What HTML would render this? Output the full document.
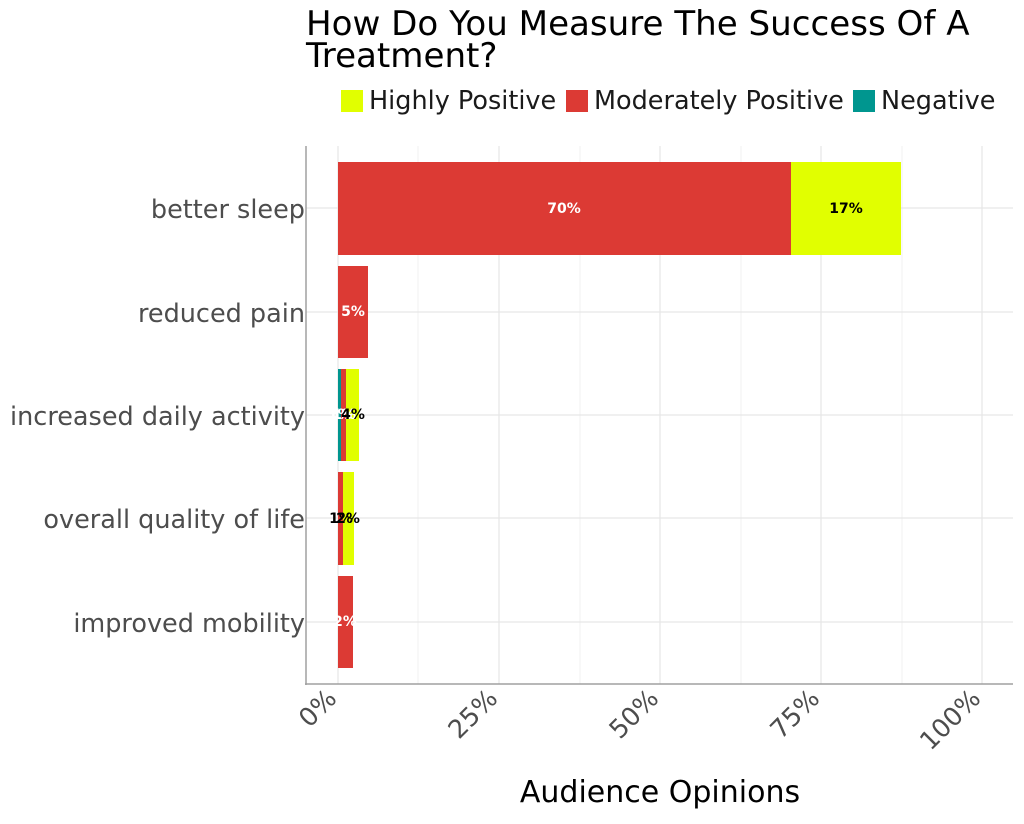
<!DOCTYPE html>
<html><head><style>body{margin:0;background:#fff}</style></head><body>
<svg width="1024" height="819" xmlns="http://www.w3.org/2000/svg" font-family="'DejaVu Sans','Liberation Sans',sans-serif">
<rect width="1024" height="819" fill="#fff"/>
<text x="306" y="35" font-size="34.1" fill="#000">How Do You Measure The Success Of A</text>
<text x="306" y="67" font-size="34.1" fill="#000">Treatment?</text>
<rect x="341" y="90" width="22" height="22" fill="#e1ff00"/>
<text x="369" y="109" font-size="25.5" fill="#1a1a1a">Highly Positive</text>
<rect x="566" y="90" width="22" height="22" fill="#dc3a34"/>
<text x="594" y="109" font-size="25.5" fill="#1a1a1a">Moderately Positive</text>
<rect x="853" y="90" width="22" height="22" fill="#00968f"/>
<text x="881" y="109" font-size="25.5" fill="#1a1a1a">Negative</text>
<g stroke="#f2f2f2" stroke-width="1">
<line x1="418" y1="146" x2="418" y2="684"/><line x1="580" y1="146" x2="580" y2="684"/><line x1="741" y1="146" x2="741" y2="684"/><line x1="902" y1="146" x2="902" y2="684"/>
</g>
<g stroke="#e6e6e6" stroke-width="1.2">
<line x1="338" y1="146" x2="338" y2="684"/><line x1="499" y1="146" x2="499" y2="684"/><line x1="660" y1="146" x2="660" y2="684"/><line x1="821" y1="146" x2="821" y2="684"/><line x1="982" y1="146" x2="982" y2="684"/>
<line x1="306" y1="208" x2="1013" y2="208"/><line x1="306" y1="312" x2="1013" y2="312"/><line x1="306" y1="415" x2="1013" y2="415"/><line x1="306" y1="518" x2="1013" y2="518"/><line x1="306" y1="622" x2="1013" y2="622"/>
</g>
<rect x="338" y="162" width="453" height="93" fill="#dc3a34"/>
<rect x="791" y="162" width="110" height="93" fill="#e1ff00"/>
<rect x="338" y="266" width="30" height="92" fill="#dc3a34"/>
<rect x="338" y="369" width="3" height="92" fill="#00968f"/>
<rect x="341" y="369" width="5" height="92" fill="#dc3a34"/>
<rect x="346" y="369" width="13" height="92" fill="#e1ff00"/>
<rect x="338" y="472" width="5" height="93" fill="#dc3a34"/>
<rect x="343" y="472" width="11" height="93" fill="#e1ff00"/>
<rect x="338" y="576" width="15" height="92" fill="#dc3a34"/>
<g font-size="14" font-weight="bold" text-anchor="middle">
<text x="564" y="213" fill="#fff">70%</text>
<text x="846" y="213" fill="#000">17%</text>
<text x="353" y="316" fill="#fff">5%</text>
<text x="340" y="419" fill="#fff">1%</text>
<text x="344" y="419" fill="#fff">1%</text>
<text x="353" y="419" fill="#000">4%</text>
<text x="341" y="523" fill="#000">1%</text>
<text x="348" y="523" fill="#000">2%</text>
<text x="345" y="626" fill="#fff">2%</text>
</g>
<g stroke="#a0a0a0" stroke-width="1.5" fill="none">
<line x1="306" y1="146" x2="306" y2="685"/><line x1="305" y1="684" x2="1013" y2="684"/>
</g>
<g font-size="25.5" fill="#4d4d4d" text-anchor="end">
<text x="305" y="218">better sleep</text>
<text x="305" y="322">reduced pain</text>
<text x="305" y="425">increased daily activity</text>
<text x="305" y="528">overall quality of life</text>
<text x="305" y="632">improved mobility</text>
</g>
<g font-size="25.5" fill="#4d4d4d" text-anchor="end">
<text transform="translate(338,700) rotate(-45)">0%</text>
<text transform="translate(499,700) rotate(-45)">25%</text>
<text transform="translate(660,700) rotate(-45)">50%</text>
<text transform="translate(821,700) rotate(-45)">75%</text>
<text transform="translate(982,700) rotate(-45)">100%</text>
</g>
<text x="660" y="802" font-size="30" fill="#000" text-anchor="middle">Audience Opinions</text>
</svg>
</body></html>
